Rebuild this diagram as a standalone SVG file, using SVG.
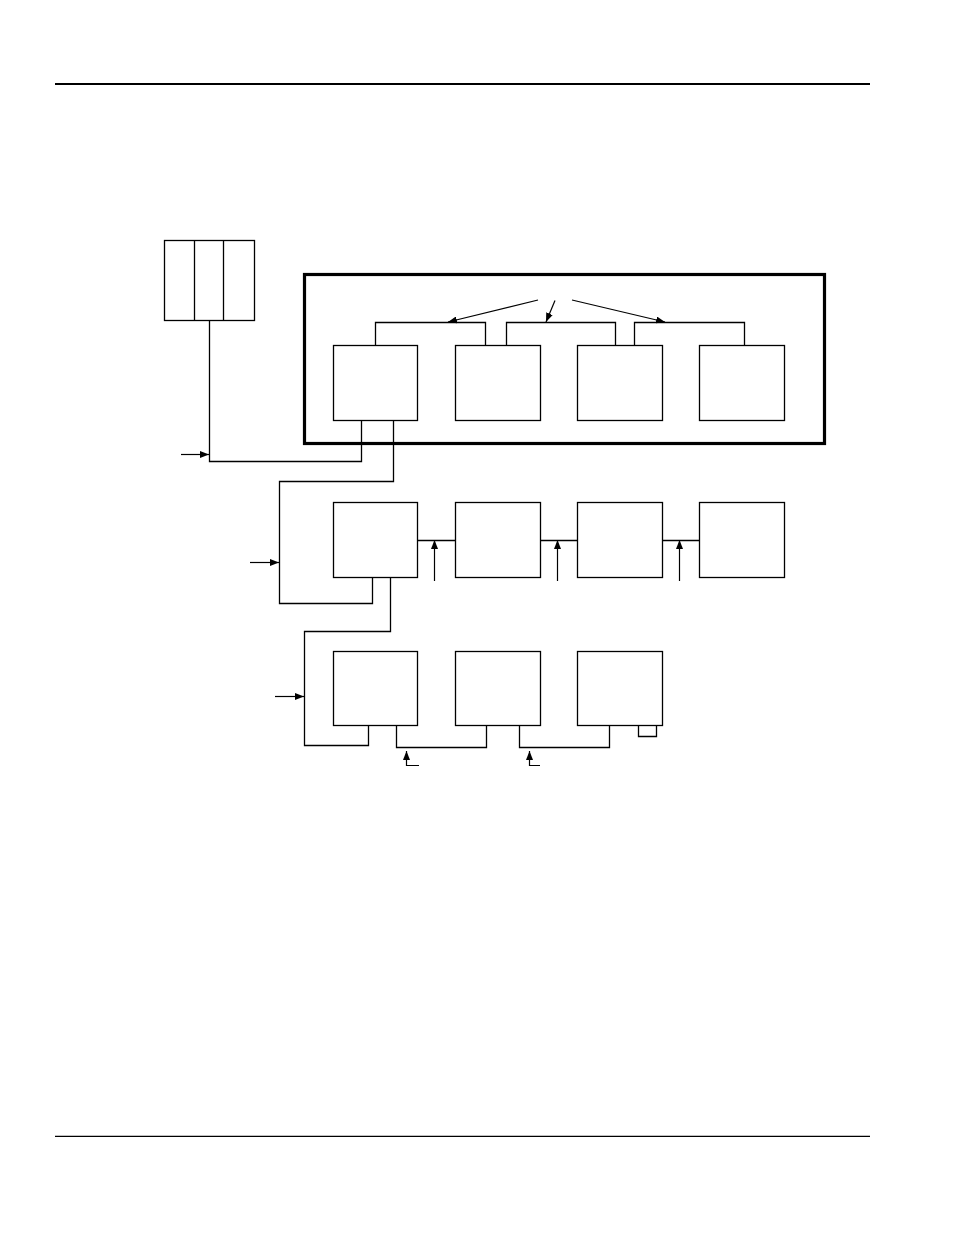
<svg xmlns="http://www.w3.org/2000/svg" width="954" height="1235" viewBox="0 0 954 1235">
<style>
.box{fill:#fff;stroke:#000;stroke-width:1.3}
.ln{fill:none;stroke:#000;stroke-width:1.3}
.arr{fill:none;stroke:#000;stroke-width:1.2;marker-end:url(#ah)}
</style>
<defs>
<marker id="ah" markerWidth="9" markerHeight="7" refX="9" refY="3.5" orient="auto" markerUnits="userSpaceOnUse">
<path d="M0,0 L9,3.5 L0,7 Z" fill="#000"/>
</marker>
</defs>
<rect width="954" height="1235" fill="#fff"/>
<line x1="55" y1="84" x2="870" y2="84" stroke="#000" stroke-width="2.2"/>
<line x1="55" y1="1136.3" x2="870" y2="1136.3" stroke="#000" stroke-width="1.2"/>
<g id="rack">
<rect class="box" x="164.5" y="240.5" width="90" height="80"/>
<line class="ln" x1="194.5" y1="240.5" x2="194.5" y2="320.5"/>
<line class="ln" x1="223.5" y1="240.5" x2="223.5" y2="320.5"/>
</g>
<g id="group-frame">
<rect x="304.5" y="274.5" width="520" height="169" fill="none" stroke="#000" stroke-width="3.2"/>
</g>
<g id="connectors">
<path class="ln" d="M209.5,320.5 V461.5 H361.5 V420.5"/>
<path class="ln" d="M393.5,420.5 V481.5 H279.5 V603.5 H372.5 V577.5"/>
<path class="ln" d="M390.5,577.5 V631.5 H304.5 V745.5 H368.5 V725.5"/>
<path class="ln" d="M375.5,345.5 V322.5 H485.5 V345.5"/>
<path class="ln" d="M506.5,345.5 V322.5 H615.5 V345.5"/>
<path class="ln" d="M634.5,345.5 V322.5 H744.5 V345.5"/>
<line class="ln" x1="417.5" y1="540.5" x2="455.5" y2="540.5"/>
<line class="ln" x1="540.5" y1="540.5" x2="577.5" y2="540.5"/>
<line class="ln" x1="662.5" y1="540.5" x2="699.5" y2="540.5"/>
<path class="ln" d="M396.5,725.5 V747.5 H486.5 V725.5"/>
<path class="ln" d="M519.5,725.5 V747.5 H609.5 V725.5"/>
<path class="ln" d="M638.5,725.5 V736.5 H656.5 V725.5"/>
<line class="arr" x1="181" y1="454.5" x2="209" y2="454.5"/>
<line class="arr" x1="250" y1="562.5" x2="279" y2="562.5"/>
<line class="arr" x1="275" y1="696.5" x2="304" y2="696.5"/>
<line class="arr" x1="538" y1="300" x2="448" y2="322"/>
<line class="arr" x1="555" y1="300.5" x2="546" y2="322"/>
<line class="arr" x1="572" y1="300" x2="665" y2="322"/>
<line class="arr" x1="434.5" y1="581" x2="434.5" y2="540"/>
<line class="arr" x1="557.5" y1="581" x2="557.5" y2="540"/>
<line class="arr" x1="679.5" y1="581" x2="679.5" y2="540"/>
<path class="arr" d="M419,765.5 H406.5 V751"/>
<path class="arr" d="M540,765.5 H529.5 V751"/>
</g>
<g id="n1"><rect class="box" x="333.5" y="345.5" width="84" height="75"/></g>
<g id="n2"><rect class="box" x="455.5" y="345.5" width="85" height="75"/></g>
<g id="n3"><rect class="box" x="577.5" y="345.5" width="85" height="75"/></g>
<g id="n4"><rect class="box" x="699.5" y="345.5" width="85" height="75"/></g>
<g id="n5"><rect class="box" x="333.5" y="502.5" width="84" height="75"/></g>
<g id="n6"><rect class="box" x="455.5" y="502.5" width="85" height="75"/></g>
<g id="n7"><rect class="box" x="577.5" y="502.5" width="85" height="75"/></g>
<g id="n8"><rect class="box" x="699.5" y="502.5" width="85" height="75"/></g>
<g id="n9"><rect class="box" x="333.5" y="651.5" width="84" height="74"/></g>
<g id="n10"><rect class="box" x="455.5" y="651.5" width="85" height="74"/></g>
<g id="n11"><rect class="box" x="577.5" y="651.5" width="85" height="74"/></g>
</svg>
